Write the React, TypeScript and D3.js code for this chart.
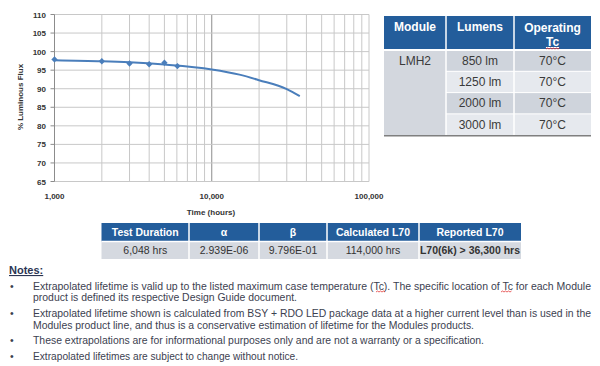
import React from "react";
import * as d3 from "d3";

// measured points (hours, % flux)
const measuredHours = [1000, 2000, 3000, 4000, 5000, 6048];
const measuredFlux = [97.9, 97.4, 96.8, 96.6, 97.0, 96.1];

// projected curve
const fitHours = [1000, 2000, 3000, 5000, 10000, 15000, 20000, 30000, 36300];
const fitFlux = [97.7, 97.4, 97.1, 96.5, 95.2, 93.8, 92.3, 89.9, 88.0];

const xLabelValues = [1000, 10000, 100000];
const xLabels = ["1,000", "10,000", "100,000"];
const yTicks = [65, 70, 75, 80, 85, 90, 95, 100, 105, 110];

const moduleHeaders = ["Module", "Lumens", "Operating"];
const moduleName = "LMH2";
const lumens = ["850 lm", "1250 lm", "2000 lm", "3000 lm"];
const tcValues = ["70°C", "70°C", "70°C", "70°C"];

const testHeaders = ["Test Duration", "α", "β", "Calculated L70", "Reported L70"];
const testValues = ["6,048 hrs", "2.939E-06", "9.796E-01", "114,000 hrs", "L70(6k) > 36,300 hrs"];

const notes = [
  [
    "Extrapolated lifetime is valid up to the listed maximum case temperature (Tc). The specific location of Tc for each Module",
    "product is defined its respective Design Guide document.",
  ],
  [
    "Extrapolated lifetime shown is calculated from BSY + RDO LED package data at a higher current level than is used in the",
    "Modules product line, and thus is a conservative  estimation of lifetime for the Modules products.",
  ],
  ["These extrapolations are for informational purposes only and are not a warranty or a specification."],
  ["Extrapolated lifetimes are subject to change without notice."],
];
const noteWidths = [[558, 264], [558, 441], [451], [265]];

const font = "'Liberation Sans', Arial, sans-serif";
const blue = "#235d9b";
const lineBlue = "#4a7ebb";

const plotLeft = 54.5;
const plotRight = 369;
const plotTop = 14.5;
const plotBottom = 181.5;

const squiggle = (x0: number, x1: number, y: number) => {
  let d = `M${x0},${y}`;
  let up = true;
  for (let x = x0 + 1.5; x <= x1; x += 1.5) {
    d += ` L${x},${up ? y - 1 : y}`;
    up = !up;
  }
  return d;
};

const App = () => {
  const x = d3.scaleLog().domain([1000, 100000]).range([plotLeft, plotRight]);
  const y = d3.scaleLinear().domain([65, 110]).range([plotBottom, plotTop]);

  const fit = fitHours.map((h, i) => ({ h, v: fitFlux[i] }));
  const line = d3
    .line<{ h: number; v: number }>()
    .x((d) => x(d.h))
    .y((d) => y(d.v))
    .curve(d3.curveMonotoneX);
  const diamond = d3.symbol(d3.symbolSquare, 20)() as string;

  // right table layout
  const tCols = [384, 446, 514, 591];
  const tHeadTop = 16;
  const tHeadBottom = 50;
  const rowH = 21.3;

  // bottom table layout
  const bCols = [101.5, 189, 259, 327, 419, 521];
  const bTop = 223;
  const bMid = 241.5;
  const bBottom = 259;

  return (
    <svg
      width={600}
      height={366}
      style={{ position: "absolute", left: 0, top: 0, background: "#fff" }}
      fontFamily={font}
    >
      {/* chart grid */}
      <g>
        {x.ticks().map((t, i) => (
          <line
            key={"vx" + i}
            x1={x(t)}
            x2={x(t)}
            y1={plotTop}
            y2={plotBottom}
            stroke={t === 10000 ? "#8c8c8c" : "#c8c8c8"}
            strokeWidth={1}
          />
        ))}
        {yTicks.map((t) => (
          <line key={"gy" + t} x1={plotLeft} x2={plotRight} y1={y(t)} y2={y(t)} stroke="#c8c8c8" />
        ))}
        <line x1={plotLeft} x2={plotLeft} y1={plotTop} y2={plotBottom} stroke="#8c8c8c" />
        {yTicks.map((t) => (
          <line key={"ty" + t} x1={plotLeft - 4} x2={plotLeft} y1={y(t)} y2={y(t)} stroke="#8c8c8c" />
        ))}
      </g>
      <g fontSize={8} fontWeight="bold" fill="#333">
        {yTicks.map((t) => (
          <text key={"ly" + t} x={46} y={y(t) + 3} textAnchor="end">
            {t}
          </text>
        ))}
        {xLabelValues.map((v, i) => (
          <text key={"lx" + i} x={x(v)} y={199} textAnchor="middle">
            {xLabels[i]}
          </text>
        ))}
        <text x={211} y={215} textAnchor="middle">
          Time (hours)
        </text>
        <text transform="translate(23,97) rotate(-90)" textAnchor="middle">
          % Luminous Flux
        </text>
      </g>
      <path d={line(fit) as string} fill="none" stroke={lineBlue} strokeWidth={2} />
      <g fill={lineBlue}>
        {measuredHours.map((h, i) => (
          <path key={i} d={diamond} transform={`translate(${x(h)},${y(measuredFlux[i])}) rotate(45)`} />
        ))}
      </g>

      {/* module table */}
      <rect x={tCols[0]} y={tHeadTop} width={tCols[3] - tCols[0]} height={tHeadBottom - tHeadTop} fill={blue} />
      {lumens.map((_, i) => (
        <rect
          key={"r" + i}
          x={tCols[1]}
          y={tHeadBottom + i * rowH}
          width={tCols[3] - tCols[1]}
          height={rowH}
          fill={i % 2 === 0 ? "#cfd4dc" : "#e6e9ee"}
        />
      ))}
      <rect x={tCols[0]} y={tHeadBottom} width={tCols[1] - tCols[0]} height={rowH * 4} fill="#d3d7de" />
      {[tCols[1], tCols[2]].map((c) => (
        <line key={"tc" + c} x1={c} x2={c} y1={tHeadTop} y2={tHeadBottom + rowH * 4} stroke="#fff" strokeWidth={1.5} />
      ))}
      <line x1={tCols[0]} x2={tCols[3]} y1={tHeadBottom} y2={tHeadBottom} stroke="#fff" strokeWidth={2} />
      {[1, 2, 3].map((i) => (
        <line key={"tr" + i} x1={tCols[1]} x2={tCols[3]} y1={tHeadBottom + i * rowH} y2={tHeadBottom + i * rowH} stroke="#fff" strokeWidth={1} />
      ))}
      <line x1={tCols[0]} x2={tCols[3]} y1={tHeadBottom + rowH * 4 + 0.5} y2={tHeadBottom + rowH * 4 + 0.5} stroke="#7f7f7f" strokeWidth={1.5} />
      <g fontSize={12} fontWeight="bold" fill="#fff" textAnchor="middle">
        <text x={(tCols[0] + tCols[1]) / 2} y={31}>{moduleHeaders[0]}</text>
        <text x={(tCols[1] + tCols[2]) / 2} y={31}>{moduleHeaders[1]}</text>
        <text x={(tCols[2] + tCols[3]) / 2} y={32}>{moduleHeaders[2]}</text>
        <text x={(tCols[2] + tCols[3]) / 2} y={46} textDecoration="underline">Tc</text>
      </g>
      <path d={squiggle(546, 560, 49)} fill="none" stroke="#e02020" strokeWidth={0.8} />
      <g fontSize={12} fill="#3a3a3a" textAnchor="middle">
        <text x={(tCols[0] + tCols[1]) / 2} y={tHeadBottom + rowH / 2 + 4}>{moduleName}</text>
        {lumens.map((l, i) => (
          <text key={"lm" + i} x={(tCols[1] + tCols[2]) / 2} y={tHeadBottom + i * rowH + rowH / 2 + 4}>
            {l}
          </text>
        ))}
        {tcValues.map((t, i) => (
          <text key={"tv" + i} x={(tCols[2] + tCols[3]) / 2} y={tHeadBottom + i * rowH + rowH / 2 + 4}>
            {t}
          </text>
        ))}
      </g>

      {/* test table */}
      <rect x={bCols[0]} y={bTop} width={bCols[5] - bCols[0]} height={bMid - bTop} fill={blue} />
      <rect x={bCols[0]} y={bMid} width={bCols[5] - bCols[0]} height={bBottom - bMid} fill="#d5d9e0" />
      {bCols.slice(1, 5).map((c) => (
        <line key={"bc" + c} x1={c} x2={c} y1={bTop} y2={bBottom} stroke="#fff" strokeWidth={1.5} />
      ))}
      <line x1={bCols[0]} x2={bCols[5]} y1={bMid} y2={bMid} stroke="#fff" strokeWidth={1.5} />
      <g fontSize={10.5} fontWeight="bold" fill="#fff" textAnchor="middle">
        {testHeaders.map((h, i) => (
          <text key={"bh" + i} x={(bCols[i] + bCols[i + 1]) / 2} y={236}>
            {h}
          </text>
        ))}
      </g>
      <g fontSize={10.5} fill="#333" textAnchor="middle">
        {testValues.map((v, i) => (
          <text key={"bv" + i} x={(bCols[i] + bCols[i + 1]) / 2} y={254} fontWeight={i === 4 ? "bold" : "normal"}>
            {v}
          </text>
        ))}
      </g>

      {/* notes */}
      <text x={9} y={274} fontSize={11} fontWeight="bold" fill="#2b3553" textDecoration="underline">
        Notes:
      </text>
      <g fontSize={10.5} fill="#3c4150">
        {(() => {
          const out: React.ReactNode[] = [];
          let yy = 289.5;
          notes.forEach((block, bi) => {
            out.push(
              <text key={"b" + bi} x={10} y={yy}>
                •
              </text>
            );
            block.forEach((ln, li) => {
              out.push(
                <text key={`n${bi}-${li}`} x={33} y={yy} textLength={noteWidths[bi][li]} lengthAdjust="spacingAndGlyphs">
                  {ln}
                </text>
              );
              yy += 11.8;
            });
            yy += 3.8;
          });
          return out;
        })()}
      </g>
      <path d={squiggle(376, 385, 292)} fill="none" stroke="#e02020" strokeWidth={0.7} />
      <path d={squiggle(501, 512, 292)} fill="none" stroke="#e02020" strokeWidth={0.7} />
    </svg>
  );
};

export default App;
